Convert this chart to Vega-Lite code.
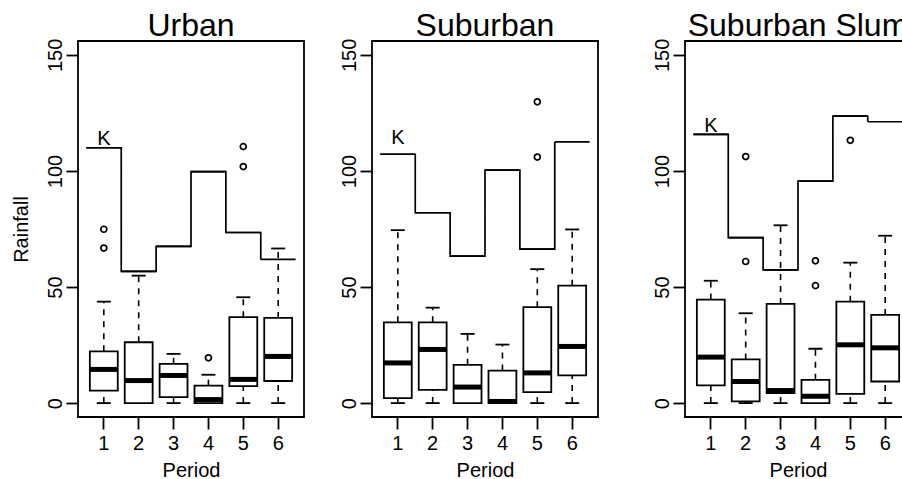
{
  "$schema": "https://vega.github.io/schema/vega-lite/v6.json",
  "padding": {"left": 10, "top": 9, "right": 0, "bottom": 0},
  "background": "white",
  "datasets": {
    "boxes": [
      {"area": "Urban", "period": 1, "lower": 0, "q1": 5.4, "median": 14.5, "q3": 22.3, "upper": 43.7},
      {"area": "Urban", "period": 2, "lower": 0, "q1": 0, "median": 9.7, "q3": 26.2, "upper": 54.9},
      {"area": "Urban", "period": 3, "lower": 0, "q1": 2.6, "median": 11.9, "q3": 16.9, "upper": 21.2},
      {"area": "Urban", "period": 4, "lower": 0, "q1": 0, "median": 1.5, "q3": 7.5, "upper": 12.2},
      {"area": "Urban", "period": 5, "lower": 0, "q1": 7.3, "median": 10.2, "q3": 37.0, "upper": 45.6},
      {"area": "Urban", "period": 6, "lower": 0, "q1": 9.5, "median": 20.1, "q3": 36.7, "upper": 66.6},
      {"area": "Suburban", "period": 1, "lower": 0, "q1": 2.1, "median": 17.3, "q3": 34.8, "upper": 74.5},
      {"area": "Suburban", "period": 2, "lower": 0, "q1": 5.7, "median": 23.1, "q3": 34.8, "upper": 41.1},
      {"area": "Suburban", "period": 3, "lower": 0, "q1": 0, "median": 6.9, "q3": 16.5, "upper": 29.8},
      {"area": "Suburban", "period": 4, "lower": 0, "q1": 0, "median": 0.7, "q3": 14.0, "upper": 25.2},
      {"area": "Suburban", "period": 5, "lower": 0, "q1": 4.7, "median": 13.0, "q3": 41.3, "upper": 57.7},
      {"area": "Suburban", "period": 6, "lower": 0, "q1": 11.9, "median": 24.4, "q3": 50.6, "upper": 74.8},
      {"area": "Suburban Slum", "period": 1, "lower": 0, "q1": 7.6, "median": 19.8, "q3": 44.6, "upper": 52.7},
      {"area": "Suburban Slum", "period": 2, "lower": 0, "q1": 0.7, "median": 9.3, "q3": 18.8, "upper": 38.7},
      {"area": "Suburban Slum", "period": 3, "lower": 0, "q1": 4.3, "median": 5.4, "q3": 42.7, "upper": 76.6},
      {"area": "Suburban Slum", "period": 4, "lower": 0, "q1": 0, "median": 2.9, "q3": 10.0, "upper": 23.4},
      {"area": "Suburban Slum", "period": 5, "lower": 0, "q1": 4.0, "median": 25.1, "q3": 43.7, "upper": 60.5},
      {"area": "Suburban Slum", "period": 6, "lower": 0, "q1": 9.3, "median": 23.8, "q3": 38.0, "upper": 72.1}
    ],
    "outliers": [
      {"area": "Urban", "period": 1, "value": 66.8},
      {"area": "Urban", "period": 1, "value": 74.9},
      {"area": "Urban", "period": 4, "value": 19.5},
      {"area": "Urban", "period": 5, "value": 101.9},
      {"area": "Urban", "period": 5, "value": 110.5},
      {"area": "Suburban", "period": 5, "value": 106.0},
      {"area": "Suburban", "period": 5, "value": 129.8},
      {"area": "Suburban Slum", "period": 2, "value": 61.0},
      {"area": "Suburban Slum", "period": 2, "value": 106.2},
      {"area": "Suburban Slum", "period": 4, "value": 50.6},
      {"area": "Suburban Slum", "period": 4, "value": 61.3},
      {"area": "Suburban Slum", "period": 5, "value": 113.2}
    ],
    "k": [
      {"area": "Urban", "period": 1, "k": 110.0, "label": "K"},
      {"area": "Urban", "period": 2, "k": 56.7, "label": ""},
      {"area": "Urban", "period": 3, "k": 67.5, "label": ""},
      {"area": "Urban", "period": 4, "k": 99.7, "label": ""},
      {"area": "Urban", "period": 5, "k": 73.5, "label": ""},
      {"area": "Urban", "period": 6, "k": 61.9, "label": ""},
      {"area": "Suburban", "period": 1, "k": 107.2, "label": "K"},
      {"area": "Suburban", "period": 2, "k": 82.0, "label": ""},
      {"area": "Suburban", "period": 3, "k": 63.3, "label": ""},
      {"area": "Suburban", "period": 4, "k": 100.4, "label": ""},
      {"area": "Suburban", "period": 5, "k": 66.3, "label": ""},
      {"area": "Suburban", "period": 6, "k": 112.5, "label": ""},
      {"area": "Suburban Slum", "period": 1, "k": 115.8, "label": "K"},
      {"area": "Suburban Slum", "period": 2, "k": 71.3, "label": ""},
      {"area": "Suburban Slum", "period": 3, "k": 57.4, "label": ""},
      {"area": "Suburban Slum", "period": 4, "k": 95.6, "label": ""},
      {"area": "Suburban Slum", "period": 5, "k": 123.6, "label": ""},
      {"area": "Suburban Slum", "period": 6, "k": 121.2, "label": ""}
    ]
  },
  "spacing": 33,
  "hconcat": [
    {
      "width": 226, "height": 376,
      "title": {"text": "Urban"},
      "encoding": {"x": {"field": "period", "type": "ordinal", "scale": {"domain": [1, 2, 3, 4, 5, 6], "paddingInner": 0, "paddingOuter": 0.24}, "axis": {"title": "Period", "labelAngle": 0}}},
      "layer": [
        {"data": {"name": "boxes"}, "transform": [{"filter": "datum.area === 'Urban'"}], "mark": {"type": "rule", "strokeDash": [6, 6], "strokeWidth": 1.6, "color": "black"}, "encoding": {"y": {"field": "q3", "type": "quantitative", "scale": {"domain": [-6, 156], "nice": false, "zero": false}, "axis": {"values": [0, 50, 100, 150]}, "title": "Rainfall"}, "y2": {"field": "upper"}}},
        {"data": {"name": "boxes"}, "transform": [{"filter": "datum.area === 'Urban'"}], "mark": {"type": "rule", "strokeDash": [6, 6], "strokeWidth": 1.6, "color": "black"}, "encoding": {"y": {"field": "lower", "type": "quantitative", "title": "Rainfall"}, "y2": {"field": "q1"}}},
        {"data": {"name": "boxes"}, "transform": [{"filter": "datum.area === 'Urban'"}], "mark": {"type": "tick", "size": 14, "thickness": 1.8, "color": "black", "opacity": 1}, "encoding": {"y": {"field": "upper", "type": "quantitative", "title": "Rainfall"}}},
        {"data": {"name": "boxes"}, "transform": [{"filter": "datum.area === 'Urban'"}], "mark": {"type": "tick", "size": 14, "thickness": 1.8, "color": "black", "opacity": 1}, "encoding": {"y": {"field": "lower", "type": "quantitative", "title": "Rainfall"}}},
        {"data": {"name": "boxes"}, "transform": [{"filter": "datum.area === 'Urban'"}], "mark": {"type": "bar", "width": {"band": 0.8}, "fill": "white", "stroke": "black", "strokeWidth": 1.8, "opacity": 1}, "encoding": {"y": {"field": "q1", "type": "quantitative", "title": "Rainfall"}, "y2": {"field": "q3"}}},
        {"data": {"name": "boxes"}, "transform": [{"filter": "datum.area === 'Urban'"}], "mark": {"type": "tick", "size": 28, "thickness": 5, "color": "black", "opacity": 1}, "encoding": {"y": {"field": "median", "type": "quantitative", "title": "Rainfall"}}},
        {"data": {"name": "outliers"}, "transform": [{"filter": "datum.area === 'Urban'"}], "mark": {"type": "point", "shape": "circle", "filled": false, "size": 36, "strokeWidth": 1.7, "color": "black", "opacity": 1}, "encoding": {"y": {"field": "value", "type": "quantitative", "title": "Rainfall"}}},
        {"data": {"name": "k"}, "transform": [{"filter": "datum.area === 'Urban'"}], "mark": {"type": "bar", "fill": null, "stroke": "black", "strokeWidth": 1.7, "opacity": 1}, "encoding": {"y": {"field": "k", "type": "quantitative", "title": "Rainfall"}, "y2": {"field": "k"}}},
        {"data": {"name": "k"}, "transform": [{"filter": "datum.area === 'Urban'"}], "mark": {"type": "line", "interpolate": "step-after", "color": "black", "strokeWidth": 1.7}, "encoding": {"x": {"field": "period", "type": "ordinal", "bandPosition": 0}, "y": {"field": "k", "type": "quantitative", "title": "Rainfall"}}},
        {"data": {"name": "k"}, "transform": [{"filter": "datum.area === 'Urban' && datum.label === 'K'"}], "mark": {"type": "text", "fontSize": 20, "font": "Liberation Sans", "baseline": "alphabetic", "dy": -3, "color": "black"}, "encoding": {"y": {"field": "k", "type": "quantitative", "title": "Rainfall"}, "text": {"field": "label"}}}
      ]
    },
    {
      "spacing": 52,
      "hconcat": [
        {
          "width": 226, "height": 376,
          "title": {"text": "Suburban"},
          "encoding": {"x": {"field": "period", "type": "ordinal", "scale": {"domain": [1, 2, 3, 4, 5, 6], "paddingInner": 0, "paddingOuter": 0.24}, "axis": {"title": "Period", "labelAngle": 0}}},
          "layer": [
            {"data": {"name": "boxes"}, "transform": [{"filter": "datum.area === 'Suburban'"}], "mark": {"type": "rule", "strokeDash": [6, 6], "strokeWidth": 1.6, "color": "black"}, "encoding": {"y": {"field": "q3", "type": "quantitative", "scale": {"domain": [-6, 156], "nice": false, "zero": false}, "axis": {"values": [0, 50, 100, 150]}, "title": null}, "y2": {"field": "upper"}}},
            {"data": {"name": "boxes"}, "transform": [{"filter": "datum.area === 'Suburban'"}], "mark": {"type": "rule", "strokeDash": [6, 6], "strokeWidth": 1.6, "color": "black"}, "encoding": {"y": {"field": "lower", "type": "quantitative", "title": null}, "y2": {"field": "q1"}}},
            {"data": {"name": "boxes"}, "transform": [{"filter": "datum.area === 'Suburban'"}], "mark": {"type": "tick", "size": 14, "thickness": 1.8, "color": "black", "opacity": 1}, "encoding": {"y": {"field": "upper", "type": "quantitative", "title": null}}},
            {"data": {"name": "boxes"}, "transform": [{"filter": "datum.area === 'Suburban'"}], "mark": {"type": "tick", "size": 14, "thickness": 1.8, "color": "black", "opacity": 1}, "encoding": {"y": {"field": "lower", "type": "quantitative", "title": null}}},
            {"data": {"name": "boxes"}, "transform": [{"filter": "datum.area === 'Suburban'"}], "mark": {"type": "bar", "width": {"band": 0.8}, "fill": "white", "stroke": "black", "strokeWidth": 1.8, "opacity": 1}, "encoding": {"y": {"field": "q1", "type": "quantitative", "title": null}, "y2": {"field": "q3"}}},
            {"data": {"name": "boxes"}, "transform": [{"filter": "datum.area === 'Suburban'"}], "mark": {"type": "tick", "size": 28, "thickness": 5, "color": "black", "opacity": 1}, "encoding": {"y": {"field": "median", "type": "quantitative", "title": null}}},
            {"data": {"name": "outliers"}, "transform": [{"filter": "datum.area === 'Suburban'"}], "mark": {"type": "point", "shape": "circle", "filled": false, "size": 36, "strokeWidth": 1.7, "color": "black", "opacity": 1}, "encoding": {"y": {"field": "value", "type": "quantitative", "title": null}}},
            {"data": {"name": "k"}, "transform": [{"filter": "datum.area === 'Suburban'"}], "mark": {"type": "bar", "fill": null, "stroke": "black", "strokeWidth": 1.7, "opacity": 1}, "encoding": {"y": {"field": "k", "type": "quantitative", "title": null}, "y2": {"field": "k"}}},
            {"data": {"name": "k"}, "transform": [{"filter": "datum.area === 'Suburban'"}], "mark": {"type": "line", "interpolate": "step-after", "color": "black", "strokeWidth": 1.7}, "encoding": {"x": {"field": "period", "type": "ordinal", "bandPosition": 0}, "y": {"field": "k", "type": "quantitative", "title": null}}},
            {"data": {"name": "k"}, "transform": [{"filter": "datum.area === 'Suburban' && datum.label === 'K'"}], "mark": {"type": "text", "fontSize": 20, "font": "Liberation Sans", "baseline": "alphabetic", "dy": -10, "color": "black"}, "encoding": {"y": {"field": "k", "type": "quantitative", "title": null}, "text": {"field": "label"}}}
          ]
        },
        {
          "width": 226, "height": 376,
          "title": {"text": "Suburban Slum"},
          "encoding": {"x": {"field": "period", "type": "ordinal", "scale": {"domain": [1, 2, 3, 4, 5, 6], "paddingInner": 0, "paddingOuter": 0.24}, "axis": {"title": "Period", "labelAngle": 0}}},
          "layer": [
            {"data": {"name": "boxes"}, "transform": [{"filter": "datum.area === 'Suburban Slum'"}], "mark": {"type": "rule", "strokeDash": [6, 6], "strokeWidth": 1.6, "color": "black"}, "encoding": {"y": {"field": "q3", "type": "quantitative", "scale": {"domain": [-6, 156], "nice": false, "zero": false}, "axis": {"values": [0, 50, 100, 150]}, "title": null}, "y2": {"field": "upper"}}},
            {"data": {"name": "boxes"}, "transform": [{"filter": "datum.area === 'Suburban Slum'"}], "mark": {"type": "rule", "strokeDash": [6, 6], "strokeWidth": 1.6, "color": "black"}, "encoding": {"y": {"field": "lower", "type": "quantitative", "title": null}, "y2": {"field": "q1"}}},
            {"data": {"name": "boxes"}, "transform": [{"filter": "datum.area === 'Suburban Slum'"}], "mark": {"type": "tick", "size": 14, "thickness": 1.8, "color": "black", "opacity": 1}, "encoding": {"y": {"field": "upper", "type": "quantitative", "title": null}}},
            {"data": {"name": "boxes"}, "transform": [{"filter": "datum.area === 'Suburban Slum'"}], "mark": {"type": "tick", "size": 14, "thickness": 1.8, "color": "black", "opacity": 1}, "encoding": {"y": {"field": "lower", "type": "quantitative", "title": null}}},
            {"data": {"name": "boxes"}, "transform": [{"filter": "datum.area === 'Suburban Slum'"}], "mark": {"type": "bar", "width": {"band": 0.8}, "fill": "white", "stroke": "black", "strokeWidth": 1.8, "opacity": 1}, "encoding": {"y": {"field": "q1", "type": "quantitative", "title": null}, "y2": {"field": "q3"}}},
            {"data": {"name": "boxes"}, "transform": [{"filter": "datum.area === 'Suburban Slum'"}], "mark": {"type": "tick", "size": 28, "thickness": 5, "color": "black", "opacity": 1}, "encoding": {"y": {"field": "median", "type": "quantitative", "title": null}}},
            {"data": {"name": "outliers"}, "transform": [{"filter": "datum.area === 'Suburban Slum'"}], "mark": {"type": "point", "shape": "circle", "filled": false, "size": 36, "strokeWidth": 1.7, "color": "black", "opacity": 1}, "encoding": {"y": {"field": "value", "type": "quantitative", "title": null}}},
            {"data": {"name": "k"}, "transform": [{"filter": "datum.area === 'Suburban Slum'"}], "mark": {"type": "bar", "fill": null, "stroke": "black", "strokeWidth": 1.7, "opacity": 1}, "encoding": {"y": {"field": "k", "type": "quantitative", "title": null}, "y2": {"field": "k"}}},
            {"data": {"name": "k"}, "transform": [{"filter": "datum.area === 'Suburban Slum'"}], "mark": {"type": "line", "interpolate": "step-after", "color": "black", "strokeWidth": 1.7}, "encoding": {"x": {"field": "period", "type": "ordinal", "bandPosition": 0}, "y": {"field": "k", "type": "quantitative", "title": null}}},
            {"data": {"name": "k"}, "transform": [{"filter": "datum.area === 'Suburban Slum' && datum.label === 'K'"}], "mark": {"type": "text", "fontSize": 20, "font": "Liberation Sans", "baseline": "alphabetic", "dy": -2, "color": "black"}, "encoding": {"y": {"field": "k", "type": "quantitative", "title": null}, "text": {"field": "label"}}}
          ]
        }
      ]
    }
  ],
  "config": {
    "font": "Liberation Sans",
    "view": {"stroke": "black", "strokeWidth": 1.8},
    "axis": {"domain": false, "grid": false, "ticks": true, "tickSize": 12, "tickColor": "black", "tickWidth": 1.8, "labelFont": "Liberation Sans", "labelFontSize": 20, "labelColor": "black", "labelPadding": 4, "titleFont": "Liberation Sans", "titleFontSize": 20, "titleFontWeight": "normal", "titleColor": "black", "labelOverlap": false, "labelFlush": false},
    "axisX": {"titlePadding": 7},
    "axisY": {"labelAngle": 270, "labelAlign": "center", "labelBaseline": "alphabetic", "labelPadding": 5, "titlePadding": 14},
    "title": {"font": "Liberation Sans", "fontSize": 32, "fontWeight": "normal", "color": "black", "anchor": "middle", "frame": "group", "offset": -5, "baseline": "alphabetic"}
  }
}
